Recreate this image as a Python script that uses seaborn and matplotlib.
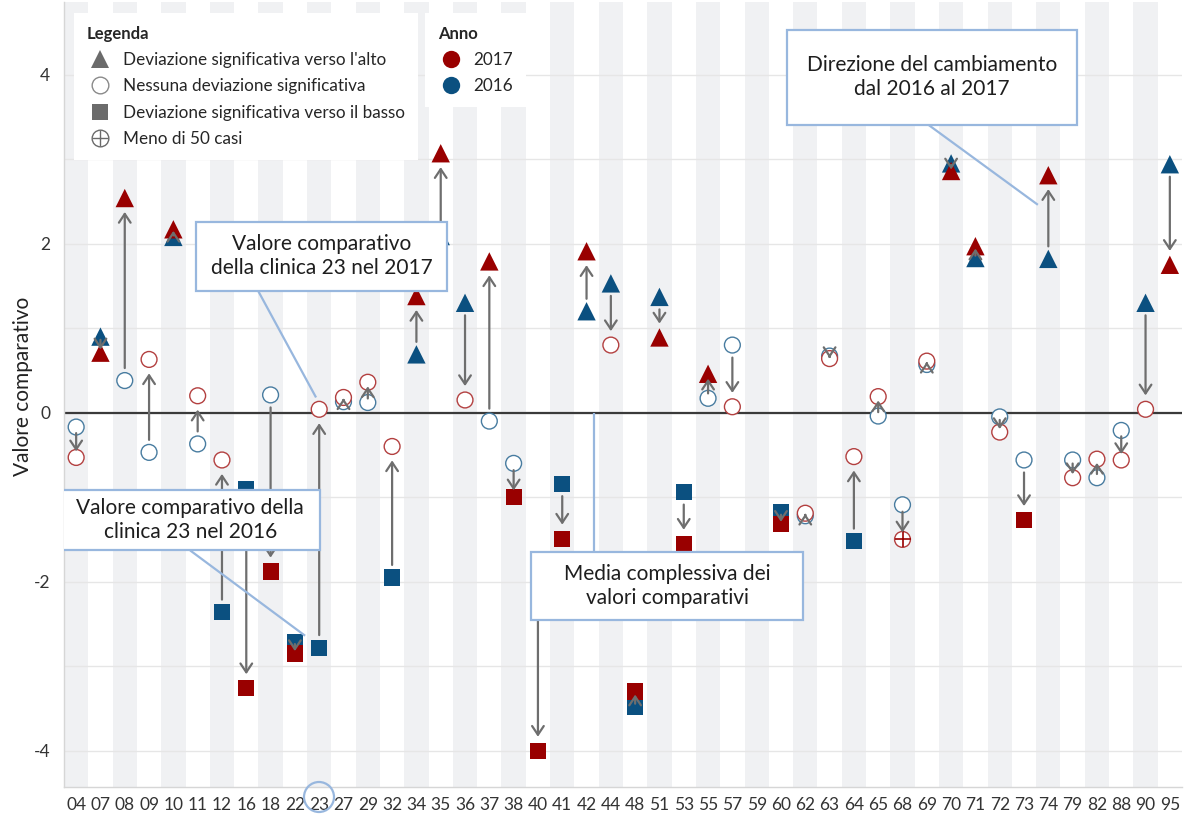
import numpy as np
import pandas as pd
import matplotlib.pyplot as plt
import seaborn as sns
from matplotlib.lines import Line2D
from matplotlib.patches import Rectangle, Ellipse
from matplotlib.legend_handler import HandlerTuple

# ── Data ──────────────────────────────────────────────────────────────────────
clinics = ["04", "07", "08", "09", "10", "11", "12", "16", "18", "22", "23",
           "27", "29", "32", "34", "35", "36", "37", "38", "40", "41", "42",
           "44", "48", "51", "53", "55", "57", "59", "60", "62", "63", "64",
           "65", "68", "69", "70", "71", "72", "73", "74", "79", "82", "88",
           "90", "95"]

# su = significant upward, ns = none, giu = significant downward, pochi = < 50 cases
val_2016 = [-0.17, 0.90, 0.38, -0.47, 2.08, -0.37, -2.36, -0.91, 0.21, -2.71,
            -2.78, 0.13, 0.12, -1.95, 0.69, 2.09, 1.30, -0.10, -0.60, -2.00,
            -0.84, 1.20, 1.53, -3.48, 1.37, -0.94, 0.17, 0.80, np.nan, -1.18,
            -1.22, 0.67, -1.52, -0.04, -1.09, 0.57, 2.95, 1.83, -0.05, -0.56,
            1.82, -0.56, -0.77, -0.21, 1.30, 2.94]
sig_2016 = ["ns", "su", "ns", "ns", "su", "ns", "giu", "giu", "ns", "giu",
            "giu", "ns", "ns", "giu", "su", "su", "su", "ns", "ns", "giu",
            "giu", "su", "su", "giu", "su", "giu", "ns", "ns", "ns", "giu",
            "ns", "ns", "giu", "ns", "ns", "ns", "su", "su", "ns", "ns",
            "su", "ns", "ns", "ns", "su", "su"]

val_2017 = [-0.53, 0.71, 2.54, 0.63, 2.17, 0.20, -0.56, -3.26, -1.88, -2.85,
            0.04, 0.18, 0.36, -0.40, 1.38, 3.07, 0.15, 1.79, -1.00, -4.00,
            -1.49, 1.91, 0.80, -3.30, 0.89, -1.55, 0.46, 0.07, np.nan, -1.32,
            -1.19, 0.64, -0.52, 0.19, -1.50, 0.61, 2.86, 1.97, -0.23, -1.27,
            2.81, -0.77, -0.55, -0.56, 0.04, 1.75]
sig_2017 = ["ns", "su", "su", "ns", "su", "ns", "ns", "giu", "giu", "giu",
            "ns", "ns", "ns", "ns", "su", "su", "ns", "su", "giu", "giu",
            "giu", "su", "ns", "giu", "su", "giu", "su", "ns", "ns", "giu",
            "ns", "ns", "ns", "ns", "pochi", "ns", "su", "su", "ns", "giu",
            "su", "ns", "ns", "ns", "ns", "su"]

RED = "#990000"
BLUE = "#0b5080"
GRAY = "#6b6b6b"
ARROW = "#6e6e6e"
BAND = "#f0f1f3"
GRID = "#e6e6e6"
CALLOUT = "#98b7de"

sns.set_theme(style="white")
plt.rcParams["font.family"] = ["Lato", "DejaVu Sans"]
plt.rcParams["axes.unicode_minus"] = False

pos = np.arange(len(clinics))
df = pd.concat([
    pd.DataFrame({"pos": pos, "anno": "2016", "valore": val_2016, "sig": sig_2016}),
    pd.DataFrame({"pos": pos, "anno": "2017", "valore": val_2017, "sig": sig_2017}),
], ignore_index=True).dropna(subset=["valore"]).reset_index(drop=True)

fig = plt.figure(figsize=(11.84, 8.14), dpi=100)
ax = fig.add_axes([64 / 1184, 27 / 814, 1118 / 1184, 785 / 814])
ax.set_xlim(-0.5, len(clinics) - 0.5)
ax.set_ylim(-4.43, 4.86)

# ── Background bands + grid ───────────────────────────────────────────────────
for i in pos[::2]:
    ax.axvspan(i - 0.5, i + 0.5, color=BAND, lw=0, zorder=0)
ax.set_yticks([-4, -2, 0, 2, 4])
ax.set_yticks(range(-4, 5), minor=True)
ax.yaxis.grid(True, which="both", color=GRID, lw=1.0, zorder=0.5)
ax.set_axisbelow(True)
ax.axhline(0, color="#3a3a3a", lw=1.6, zorder=1.5)

# ── Markers ───────────────────────────────────────────────────────────────────
sns.scatterplot(
    data=df, x="pos", y="valore", hue="anno", style="sig", size="sig",
    markers={"su": "^", "ns": "o", "giu": "s", "pochi": "o"},
    sizes={"su": 175, "ns": 130, "giu": 135, "pochi": 130},
    palette={"2016": BLUE, "2017": RED}, legend=False, ax=ax, zorder=3,
)
pc = ax.collections[-1]
open_pt = df["sig"].isin(["ns", "pochi"]).to_numpy()
fc = np.array(pc.get_facecolors())
ec = fc.copy()
ec[open_pt, :3] = ec[open_pt, :3] * 0.75 + 0.25
ec[~open_pt] = (0, 0, 0, 0)
fc[open_pt] = (1, 1, 1, 1)
pc.set_facecolors(fc)
pc.set_edgecolors(ec)
pc.set_linewidths(np.where(open_pt, 1.0, 0.0))

few = df[df["sig"] == "pochi"]
sns.scatterplot(data=few, x="pos", y="valore", hue="anno",
                palette={"2016": BLUE, "2017": RED}, marker="+", s=125,
                linewidth=1.2, legend=False, ax=ax, zorder=3.2)

# ── Change arrows 2016 -> 2017 ────────────────────────────────────────────────
for i in pos:
    a, b = val_2016[i], val_2017[i]
    if np.isnan(a) or np.isnan(b) or a == b:
        continue
    dpx = abs(ax.transData.transform((0, b))[1] - ax.transData.transform((0, a))[1])
    if dpx > 40:
        start, end, sa, sb = a, b, 9, 10
    else:
        start, end, sa, sb = a + 0.2 * (b - a), b - 0.2 * (b - a), 0, 0
    ax.annotate("", xy=(i, end), xytext=(i, start),
                arrowprops=dict(arrowstyle="->,head_length=0.45,head_width=0.3",
                                color=ARROW, lw=1.6, shrinkA=sa, shrinkB=sb,
                                mutation_scale=14),
                zorder=4)

# ── Axes styling ──────────────────────────────────────────────────────────────
ax.set_xticks(pos)
ax.set_xticklabels(clinics)
ax.set_xlabel("")
ax.set_ylabel("Valore comparativo", fontsize=15, color="#222222")
ax.yaxis.set_label_coords(-0.028, 0.51)
ax.tick_params(axis="x", length=4, color="#cccccc", labelsize=12.5,
               labelcolor="#333333", pad=3)
ax.tick_params(axis="y", which="major", length=4, color="#cccccc",
               labelsize=12.5, labelcolor="#333333", pad=6)
ax.tick_params(axis="y", which="minor", length=0)
for s in ["top", "right"]:
    ax.spines[s].set_visible(False)
for s in ["left", "bottom"]:
    ax.spines[s].set_color("#d6d6d6")
    ax.spines[s].set_linewidth(1.0)

# ── Callouts ──────────────────────────────────────────────────────────────────
def callout(text, x0, x1, y0, y1, line):
    ax.plot(line[0], line[1], color=CALLOUT, lw=1.6, zorder=5,
            solid_capstyle="butt")
    ax.add_patch(Rectangle((x0, y0), x1 - x0, y1 - y0, facecolor="white",
                           edgecolor=CALLOUT, lw=1.6, zorder=6))
    ax.text((x0 + x1) / 2, (y0 + y1) / 2, text, ha="center", va="center",
            fontsize=15, color="#1e1e1e", linespacing=1.25, zorder=7)

callout("Valore comparativo\ndella clinica 23 nel 2017", 4.94, 15.26, 1.44, 2.26,
        ([7.49, 9.87], [1.44, 0.18]))
callout("Valore comparativo della\nclinica 23 nel 2016", -0.66, 10.04, -1.63, -0.91,
        ([4.69, 9.42], [-1.63, -2.64]))
callout("Media complessiva dei\nvalori comparativi", 18.72, 29.9, -2.45, -1.645,
        ([21.31, 21.31], [-1.645, 0.0]))
callout("Direzione del cambiamento\ndal 2016 al 2017", 29.25, 41.18, 3.41, 4.53,
        ([35.05, 39.57], [3.41, 2.46]))

fig.add_artist(Ellipse((319 / 1184, 1 - 797 / 814), 30 / 1184, 30 / 814,
                       transform=fig.transFigure, fill=False,
                       edgecolor=CALLOUT, lw=1.6, clip_on=False))

# ── Legends ───────────────────────────────────────────────────────────────────
shape_handles = [
    Line2D([], [], ls="", marker="^", markersize=13, color=GRAY, mew=0),
    Line2D([], [], ls="", marker="o", markersize=12, mfc="white",
           mec="#8a8a8a", mew=1.0),
    Line2D([], [], ls="", marker="s", markersize=12, color=GRAY, mew=0),
    (Line2D([], [], ls="", marker="o", markersize=12, mfc="white",
            mec=GRAY, mew=1.0),
     Line2D([], [], ls="", marker="+", markersize=12, mec=GRAY, mew=1.0)),
]
shape_labels = ["Deviazione significativa verso l'alto",
                "Nessuna deviazione significativa",
                "Deviazione significativa verso il basso",
                "Meno di 50 casi"]
leg_kw = dict(loc="upper left", bbox_transform=fig.transFigure, fontsize=12.3,
              title_fontproperties={"weight": "bold", "size": 12},
              alignment="left", frameon=True, fancybox=False,
              facecolor="white", edgecolor="none", framealpha=1,
              borderpad=0.75, labelspacing=0.6, handlelength=1.5,
              handletextpad=0.6, borderaxespad=0)
leg1 = ax.legend(shape_handles, shape_labels, title="Legenda",
                 bbox_to_anchor=(74 / 1184, 1 - 13 / 814),
                 handler_map={tuple: HandlerTuple(ndivide=1, pad=0)}, **leg_kw)
leg1.set_zorder(8)
ax.add_artist(leg1)

year_handles = [
    Line2D([], [], ls="", marker="o", markersize=12.5, color=RED, mew=0),
    Line2D([], [], ls="", marker="o", markersize=12.5, color=BLUE, mew=0),
]
leg2 = ax.legend(year_handles, ["2017", "2016"], title="Anno",
                 bbox_to_anchor=(425 / 1184, 1 - 13 / 814), **leg_kw)
leg2.set_zorder(8)

fig.savefig("out.png", dpi=100)
